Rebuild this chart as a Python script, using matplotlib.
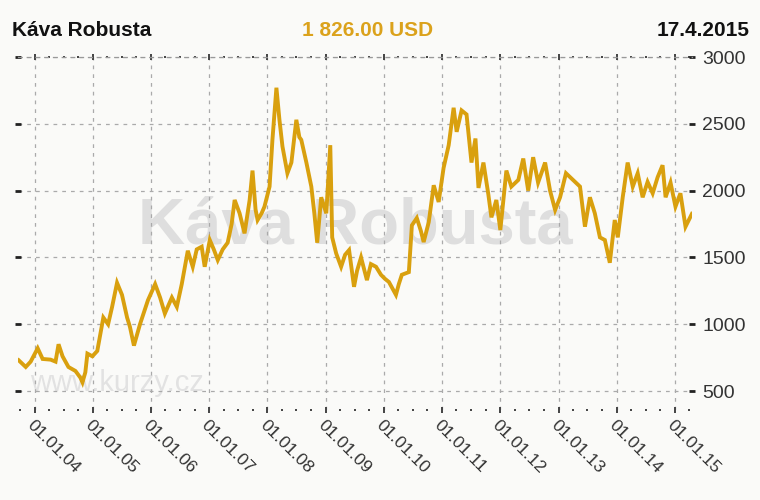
import numpy as np
import pandas as pd
import matplotlib
matplotlib.use('Agg')
import matplotlib.pyplot as plt
import matplotlib.dates as mdates

# Cena kávy Robusta (USD)
dates = [
    '2003-09-23', '2003-11-06', '2003-12-07', '2004-01-20', '2004-02-20', '2004-04-10',
    '2004-05-11', '2004-05-30', '2004-06-24', '2004-07-31', '2004-09-13', '2004-10-14',
    '2004-10-27', '2004-11-14', '2004-11-27', '2004-12-28', '2005-01-28', '2005-03-07',
    '2005-04-06', '2005-05-01', '2005-06-01', '2005-07-02', '2005-08-03', '2005-08-21',
    '2005-09-15', '2005-10-23', '2005-12-12', '2006-01-26', '2006-02-26', '2006-03-28',
    '2006-05-11', '2006-06-11', '2006-07-12', '2006-08-19', '2006-09-19', '2006-10-14',
    '2006-11-14', '2006-12-03', '2007-01-04', '2007-01-29', '2007-02-23', '2007-03-26',
    '2007-04-26', '2007-05-21', '2007-06-09', '2007-07-10', '2007-08-10', '2007-09-11',
    '2007-09-29', '2007-10-18', '2007-10-31', '2007-11-25', '2007-12-13', '2008-01-14',
    '2008-02-01', '2008-02-26', '2008-03-16', '2008-04-04', '2008-05-05', '2008-05-30',
    '2008-06-30', '2008-07-19', '2008-07-31', '2008-09-01', '2008-10-02', '2008-10-21',
    '2008-11-08', '2008-12-03', '2009-01-04', '2009-01-29', '2009-02-10', '2009-03-07',
    '2009-04-07', '2009-05-02', '2009-05-27', '2009-06-27', '2009-07-16', '2009-08-10',
    '2009-09-16', '2009-10-11', '2009-11-12', '2009-12-13', '2010-01-07', '2010-02-01',
    '2010-03-17', '2010-04-04', '2010-04-23', '2010-06-06', '2010-06-25', '2010-07-26',
    '2010-08-20', '2010-09-07', '2010-10-09', '2010-11-09', '2010-12-10', '2011-01-10',
    '2011-02-11', '2011-03-14', '2011-04-02', '2011-05-03', '2011-06-03', '2011-07-04',
    '2011-07-29', '2011-08-17', '2011-09-17', '2011-10-18', '2011-11-06', '2011-12-07',
    '2012-01-01', '2012-02-08', '2012-03-10', '2012-04-23', '2012-05-24', '2012-06-24',
    '2012-07-25', '2012-08-25', '2012-10-08', '2012-11-08', '2012-12-10', '2013-01-10',
    '2013-02-16', '2013-04-01', '2013-05-15', '2013-06-15', '2013-07-16', '2013-08-16',
    '2013-09-17', '2013-10-18', '2013-11-18', '2013-12-19', '2014-01-07', '2014-02-07',
    '2014-03-10', '2014-04-11', '2014-05-12', '2014-06-12', '2014-07-13', '2014-08-14',
    '2014-09-14', '2014-10-15', '2014-11-03', '2014-12-04', '2015-01-04', '2015-02-04',
    '2015-03-08', '2015-04-17',
]
prices = [
    730, 680, 720, 820, 740, 735,
    720, 850, 760, 680, 650, 600,
    565, 640, 780, 760, 800, 1050,
    1000, 1130, 1310, 1220, 1050, 980,
    840, 1000, 1180, 1300, 1200, 1080,
    1200, 1130, 1300, 1550, 1430, 1560,
    1580, 1430, 1630, 1560, 1480, 1560,
    1610, 1750, 1930, 1830, 1680, 1930,
    2150, 1860, 1780, 1830, 1880, 2030,
    2380, 2770, 2530, 2330, 2130, 2210,
    2530, 2400, 2380, 2210, 2030, 1830,
    1610, 1950, 1830, 2340, 1650, 1530,
    1430, 1520, 1555, 1280, 1400, 1500,
    1330, 1450, 1430, 1370, 1340, 1316,
    1220, 1300, 1370, 1390, 1740, 1795,
    1700, 1615, 1765, 2040, 1915, 2170,
    2340, 2620, 2440, 2600, 2570, 2210,
    2390, 2020, 2210, 1970, 1800, 1930,
    1705, 2150, 2030, 2080, 2240, 2000,
    2250, 2060, 2210, 2000, 1855, 1950,
    2130, 2080, 2030, 1730, 1950, 1830,
    1650, 1630, 1460, 1780, 1650, 1950,
    2210, 2030, 2130, 1950, 2065, 1980,
    2100, 2190, 1950, 2060, 1880, 1980,
    1730, 1826,
]
yticks = [500, 1000, 1500, 2000, 2500, 3000]

dates = pd.to_datetime(dates)
line_color = '#d9a00e'
bg = '#fafaf8'

fig = plt.figure(figsize=(7.6, 5.0), dpi=100, facecolor=bg)
ax = fig.add_axes([0.024, 0.18, 0.887, 0.706], facecolor=bg)

# vodoznaky
ax.text(0.5, 0.52, 'Káva Robusta', transform=ax.transAxes, ha='center', va='center',
        fontsize=47, fontweight='bold', color='#dedede', family='Liberation Sans', zorder=1)
ax.text(0.018, 0.055, 'www.kurzy.cz', transform=ax.transAxes, ha='left', va='baseline',
        fontsize=21, color='#e2e2e2', family='Liberation Sans', zorder=1)

ax.plot(dates, prices, color=line_color, lw=2.8, zorder=3, solid_joinstyle='miter')

ax.set_xlim(pd.Timestamp('2003-09-20'), pd.Timestamp('2015-04-20'))
ax.set_ylim(358, 3000)

ax.xaxis.set_major_locator(mdates.YearLocator())
ax.xaxis.set_minor_locator(mdates.MonthLocator(bymonth=[4, 7, 10]))
ax.xaxis.set_major_formatter(mdates.DateFormatter('%d.%m.%y'))
ax.set_yticks(yticks)

ax.grid(True, which='major', color='#aaaaaa', linestyle=(0, (3, 4)), lw=0.9, zorder=0)

for s in ['left', 'right', 'bottom']:
    ax.spines[s].set_visible(False)
ax.spines['top'].set_color('#999999')
ax.spines['top'].set_linestyle((0, (3, 4)))
ax.spines['top'].set_linewidth(0.9)

ax.yaxis.tick_right()
ax.tick_params(axis='y', which='major', left=True, right=True, direction='inout',
               length=4, width=2, color='#222222', labelsize=14, labelcolor='#333333', pad=5)
ax.tick_params(axis='x', which='major', top=True, bottom=True, direction='inout',
               length=5, width=1.4, color='#444444', labelsize=12.5, labelcolor='#333333', pad=3)
ax.tick_params(axis='x', which='minor', top=True, bottom=True, direction='inout',
               length=2, width=1.4, color='#444444')
for lbl in ax.get_yticklabels() + ax.get_xticklabels():
    lbl.set_family('Liberation Sans')
for lbl in ax.get_xticklabels():
    lbl.set_rotation(-45)
    lbl.set_ha('left')
    lbl.set_va('top')
    lbl.set_rotation_mode('anchor')

# hlavicka
fig.text(12 / 760, 1 - 30 / 500, 'Káva Robusta', ha='left', va='center', fontsize=15,
         fontweight='bold', color='#111111', family='Liberation Sans')
fig.text(368 / 760, 1 - 30 / 500, '1 826.00 USD', ha='center', va='center', fontsize=15,
         fontweight='bold', color='#dba21c', family='Liberation Sans')
fig.text(750 / 760, 1 - 30 / 500, '17.4.2015', ha='right', va='center', fontsize=15,
         fontweight='bold', color='#111111', family='Liberation Sans')

fig.savefig('out.png', dpi=100, facecolor=bg)
